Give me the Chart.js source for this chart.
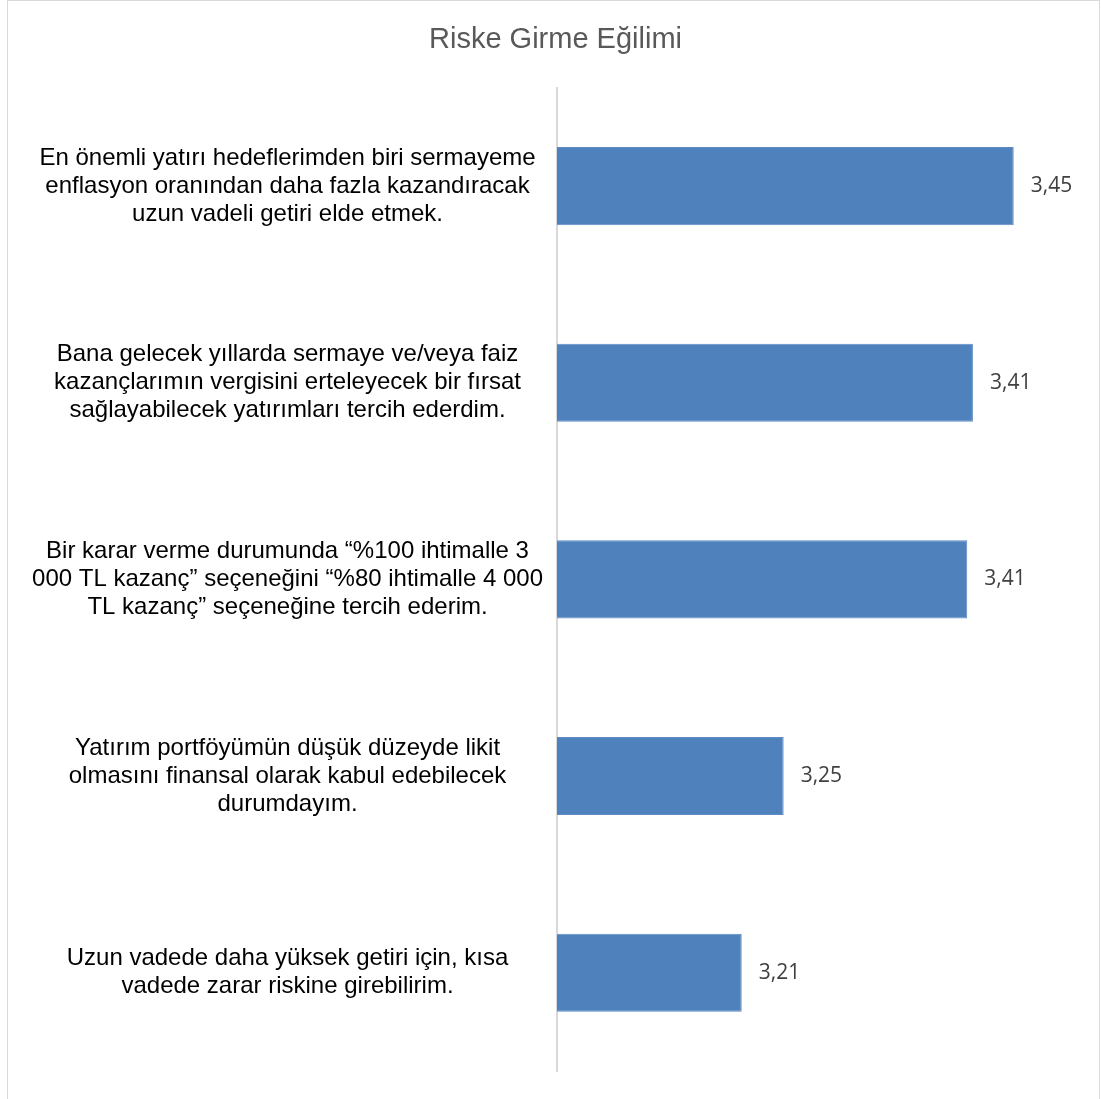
<!DOCTYPE html>
<html>
<head>
<meta charset="utf-8">
<script src="https://cdn.jsdelivr.net/npm/chart.js@4/dist/chart.umd.min.js"></script>
<style>
  html, body { margin: 0; padding: 0; background: #fff; overflow: hidden; }
  #frame { position: absolute; left: 7px; top: 0; width: 1091px; height: 1120px; border: 1.5px solid #d9d9d9; }
  #wrap { position: absolute; left: 0; top: 0; width: 1101px; height: 1099px; }
</style>
</head>
<body>
<div id="frame"></div>
<div id="wrap"><canvas id="riskChart" width="1101" height="1099"></canvas></div>
<script>
// categories (multi-line labels, as in the original)
var categories = [
    ["En önemli yatırı hedeflerimden biri sermayeme", "enflasyon oranından daha fazla kazandıracak", "uzun vadeli getiri elde etmek."],
    ["Bana gelecek yıllarda sermaye ve/veya faiz", "kazançlarımın vergisini erteleyecek bir fırsat", "sağlayabilecek yatırımları tercih ederdim."],
    ["Bir karar verme durumunda “%100 ihtimalle 3", "000 TL kazanç” seçeneğini “%80 ihtimalle 4 000", "TL kazanç” seçeneğine tercih ederim."],
    ["Yatırım portföyümün düşük düzeyde likit", "olmasını finansal olarak kabul edebilecek", "durumdayım."],
    ["Uzun vadede daha yüksek getiri için, kısa", "vadede zarar riskine girebilirim."]
]
var values = [3.45, 3.414, 3.409, 3.247, 3.21]
var chartTitle = "Riske Girme Eğilimi"

// data labels with comma decimal
var valueLabels = {
    id: 'valueLabels',
    afterDatasetsDraw: function (chart) {
        var ctx = chart.ctx
        var meta = chart.getDatasetMeta(0)
        ctx.save()
        ctx.font = '21px "Open Sans"'
        ctx.fillStyle = '#404040'
        ctx.textAlign = 'left'
        ctx.textBaseline = 'middle'
        meta.data.forEach(function (bar, i) {
            var txt = values[i].toFixed(2).replace('.', ',')
            ctx.fillText(txt, bar.x + 17, bar.y)
        })
        ctx.restore()
    }
}

new Chart(document.getElementById('riskChart'), {
    type: 'bar',
    data: {
        labels: categories,
        datasets: [{
            data: values,
            backgroundColor: '#4f81bd',
            borderColor: '#5d8cc4',
            borderWidth: 1,
            barPercentage: 0.397,
            categoryPercentage: 1
        }]
    },
    options: {
        indexAxis: 'y',
        responsive: false,
        animation: false,
        layout: { padding: { left: 10, right: 0, top: 0, bottom: 28 } },
        plugins: {
            legend: { display: false },
            tooltip: { enabled: false },
            title: {
                display: true,
                text: chartTitle,
                color: '#595959',
                font: { family: '"Liberation Sans", Arial', size: 29, weight: 'normal', lineHeight: 1.2 },
                padding: { top: 23, bottom: 30 }
            }
        },
        scales: {
            x: {
                display: false,
                min: 3.047,
                max: 3.527
            },
            y: {
                grid: { display: false, drawTicks: false },
                border: { display: true, color: '#d9d9d9', width: 2 },
                ticks: {
                    color: '#000',
                    crossAlign: 'center',
                    padding: 14,
                    font: { family: '"Liberation Sans", Arial', size: 24, lineHeight: 1.17 }
                },
                afterFit: function (scale) {
                    scale.width = 547
                    scale.paddingTop = 0
                    scale.paddingBottom = 0
                }
            }
        }
    },
    plugins: [valueLabels]
})
</script>
</body>
</html>
